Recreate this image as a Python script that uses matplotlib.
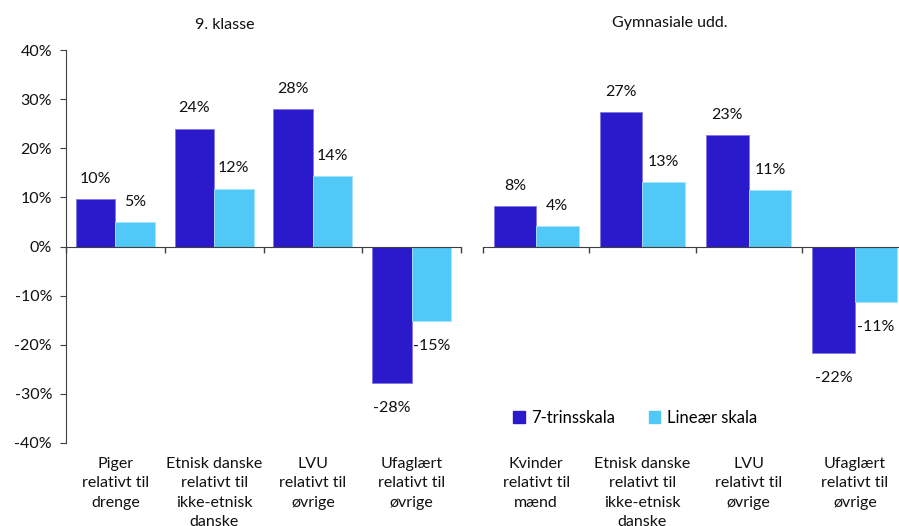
import matplotlib
matplotlib.use("Agg")
import matplotlib.pyplot as plt
import numpy as np
from matplotlib.transforms import blended_transform_factory

plt.rcParams['font.family'] = ['Lato', 'DejaVu Sans']

panel_titles = ["9. klasse", "Gymnasiale udd."]
cats_left = ["Piger\nrelativt til\ndrenge", "Etnisk danske\nrelativt til\nikke-etnisk\ndanske",
             "LVU\nrelativt til\nøvrige", "Ufaglært\nrelativt til\nøvrige"]
cats_right = ["Kvinder\nrelativt til\nmænd", "Etnisk danske\nrelativt til\nikke-etnisk\ndanske",
              "LVU\nrelativt til\nøvrige", "Ufaglært\nrelativt til\nøvrige"]
series_names = ["7-trinsskala", "Lineær skala"]
left_7 = [9.6, 24.0, 28.0, -27.8]
left_lin = [5.0, 11.8, 14.4, -15.1]
right_7 = [8.2, 27.3, 22.7, -21.6]
right_lin = [4.1, 13.2, 11.4, -11.2]
yticks = [-40, -30, -20, -10, 0, 10, 20, 30, 40]

c_dark = "#2B1ACB"
c_light = "#50C8F8"
fs = 11.5
tc = "#111111"

fig = plt.figure(figsize=(8.99, 5.26), dpi=100)
W, H = 899, 526
ax1 = fig.add_axes([66 / W, (526 - 443) / H, 395 / W, 393 / H])
ax2 = fig.add_axes([483 / W, (526 - 443) / H, 425 / W, 393 / H])

bw = 0.4
for ax, cats, v7, vl in [(ax1, cats_left, left_7, left_lin), (ax2, cats_right, right_7, right_lin)]:
    x = np.arange(len(cats))
    b1 = ax.bar(x - bw / 2, v7, bw, color=c_dark, edgecolor="#7f78e6", linewidth=0.6, label=series_names[0])
    b2 = ax.bar(x + bw / 2, vl, bw, color=c_light, edgecolor="#a8e2fb", linewidth=0.6, label=series_names[1])
    for bars, vals in [(b1, v7), (b2, vl)]:
        for rect, v in zip(bars, vals):
            cx = rect.get_x() + rect.get_width() / 2
            if v >= 0:
                ax.annotate(f"{round(v):d}%", (cx, v), xytext=(0, 14.5), textcoords="offset points",
                            ha="center", va="center", fontsize=fs, color=tc)
            else:
                ax.annotate(f"{round(v):d}%", (cx, v), xytext=(0, -18), textcoords="offset points",
                            ha="center", va="center", fontsize=fs, color=tc)
    ax.set_xlim(-0.5, len(cats) - 0.5)
    ax.set_ylim(-40, 40)
    ax.spines['top'].set_visible(False)
    ax.spines['right'].set_visible(False)
    ax.spines['bottom'].set_position(('data', 0))
    ax.spines['bottom'].set_color("#404040")
    ax.set_xticks(np.arange(len(cats) + 1) - 0.5)
    ax.set_xticklabels([])
    ax.tick_params(axis='x', direction='out', length=4, color="#404040", width=1)
    tr = blended_transform_factory(ax.transData, ax.transAxes)
    for i, c in enumerate(cats):
        ax.text(i, -0.035, c, transform=tr, ha="center", va="top", fontsize=fs,
                linespacing=1.5, color=tc)
    ax.patch.set_alpha(0)

ax1.set_yticks(yticks)
ax1.set_yticklabels([f"{t}%" for t in yticks], fontsize=fs, color=tc)
ax1.tick_params(axis='y', direction='out', length=4, color="#404040", pad=6)
ax1.spines['left'].set_color("#404040")
ax2.spines['left'].set_visible(False)
ax2.set_yticks([])

fig.text(225 / W, 1 - 25 / H, panel_titles[0], ha="center", va="center", fontsize=fs, color=tc)
fig.text(670 / W, 1 - 23 / H, panel_titles[1], ha="center", va="center", fontsize=fs, color=tc)

handles = [plt.Rectangle((0, 0), 1, 1, color=c_dark), plt.Rectangle((0, 0), 1, 1, color=c_light)]
fig.legend(handles, series_names, loc="center left", bbox_to_anchor=(498 / W, 1 - 418 / H),
           frameon=False, fontsize=fs + 0.5, ncol=2, handlelength=0.7, handleheight=0.7,
           handletextpad=0.4, columnspacing=2.0)

fig.savefig("out.png", dpi=100)
